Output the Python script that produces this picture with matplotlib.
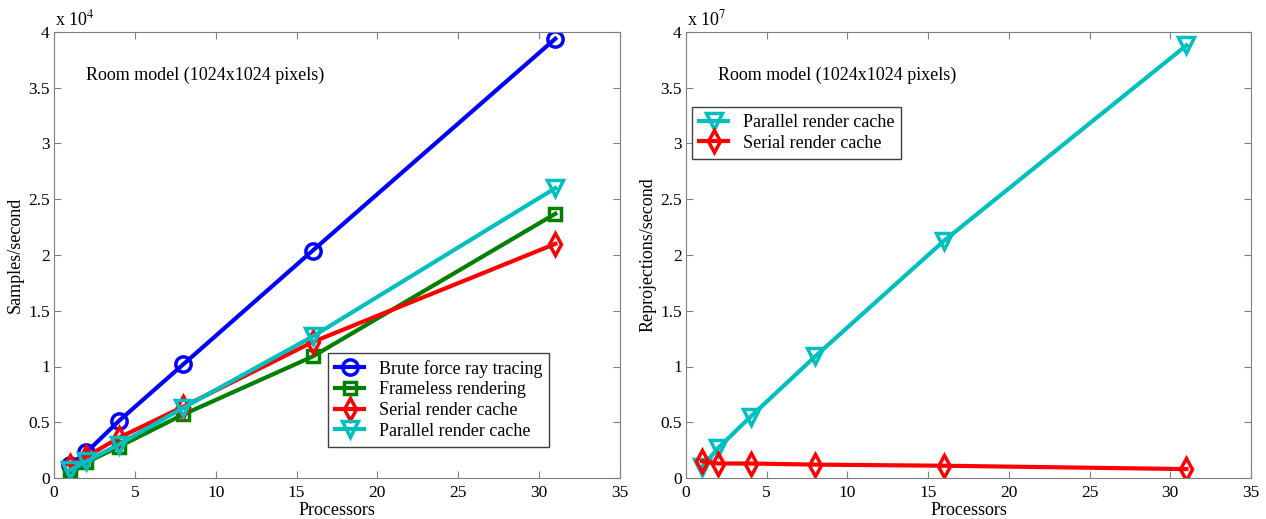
import numpy as np
import matplotlib.pyplot as plt

plt.rcParams['font.family'] = ['Liberation Serif', 'DejaVu Serif']
plt.rcParams['mathtext.fontset'] = 'stix'

procs = [1, 2, 4, 8, 16, 31]

# left panel, samples/second (x 10^4)
brute = [0.12, 0.23, 0.51, 1.02, 2.04, 3.94]
frameless = [0.07, 0.14, 0.28, 0.57, 1.09, 2.37]
serial = [0.11, 0.19, 0.36, 0.64, 1.22, 2.10]
parallel = [0.07, 0.15, 0.30, 0.63, 1.27, 2.60]

# right panel, reprojections/second (x 10^7)
par_reproj = [0.10, 0.27, 0.55, 1.09, 2.13, 3.88]
ser_reproj = [0.15, 0.13, 0.13, 0.12, 0.11, 0.08]

W, H = 1266, 519
fig = plt.figure(figsize=(W / 100, H / 100), dpi=100)
ax1 = fig.add_axes([54 / W, 41 / H, 566 / W, 446 / H])
ax2 = fig.add_axes([686 / W, 41 / H, 565 / W, 446 / H])

lw = 3
ms = 11
ax1.plot(procs, brute, '-o', color='#0000ff', lw=lw, ms=ms, mew=2.5, mfc='none', label='Brute force ray tracing')
ax1.plot(procs, frameless, '-s', color='#008000', lw=lw, ms=ms - 2, mew=2.5, mfc='none', label='Frameless rendering')
ax1.plot(procs, serial, '-d', color='#ff0000', lw=lw, ms=ms, mew=2.5, mfc='none', label='Serial render cache')
ax1.plot(procs, parallel, '-v', color='#00bfbf', lw=lw, ms=ms + 1, mew=2.5, mfc='none', label='Parallel render cache')

ax2.plot(procs, par_reproj, '-v', color='#00bfbf', lw=lw, ms=ms + 1, mew=2.5, mfc='none', label='Parallel render cache')
ax2.plot(procs, ser_reproj, '-d', color='#ff0000', lw=lw, ms=ms, mew=2.5, mfc='none', label='Serial render cache')

panels = [(ax1, 'Samples/second', '4'), (ax2, 'Reprojections/second', '7')]
for ax, ylab, exp in panels:
    ax.set_xlim(0, 35)
    ax.set_ylim(0, 4)
    ax.set_xticks(range(0, 36, 5))
    ax.set_yticks(np.arange(0, 4.01, 0.5))
    ax.set_yticklabels(['0', '0.5', '1', '1.5', '2', '2.5', '3', '3.5', '4'])
    ax.tick_params(direction='in', top=True, right=True, labelsize=12.5, length=5, pad=3,
                   color='#7f7f7f')
    ax.tick_params(axis='x', pad=5)
    ax.set_xlabel('Processors', fontsize=13, labelpad=1)
    ax.set_ylabel(ylab, fontsize=13)
    ax.yaxis.set_label_coords(-0.053, 0.5)
    ax.text(0.002, 1.006, r'x 10$^{' + exp + '}$', transform=ax.transAxes, fontsize=13, va='bottom')
    ax.text(0.057, 0.893, 'Room model (1024x1024 pixels)', transform=ax.transAxes, fontsize=13,
            va='baseline')
    for s in ax.spines.values():
        s.set_color('#7f7f7f')

ax1.legend(loc='lower right', bbox_to_anchor=(0.875, 0.07), fontsize=13, frameon=True, fancybox=False,
           edgecolor='#404040', framealpha=1, handlelength=1.6, borderaxespad=0, labelspacing=0.2)
ax2.legend(loc='upper left', bbox_to_anchor=(0.011, 0.832), fontsize=13, frameon=True, fancybox=False,
           edgecolor='#404040', framealpha=1, handlelength=1.6, borderaxespad=0, labelspacing=0.2)

fig.savefig('out.png', dpi=100)
